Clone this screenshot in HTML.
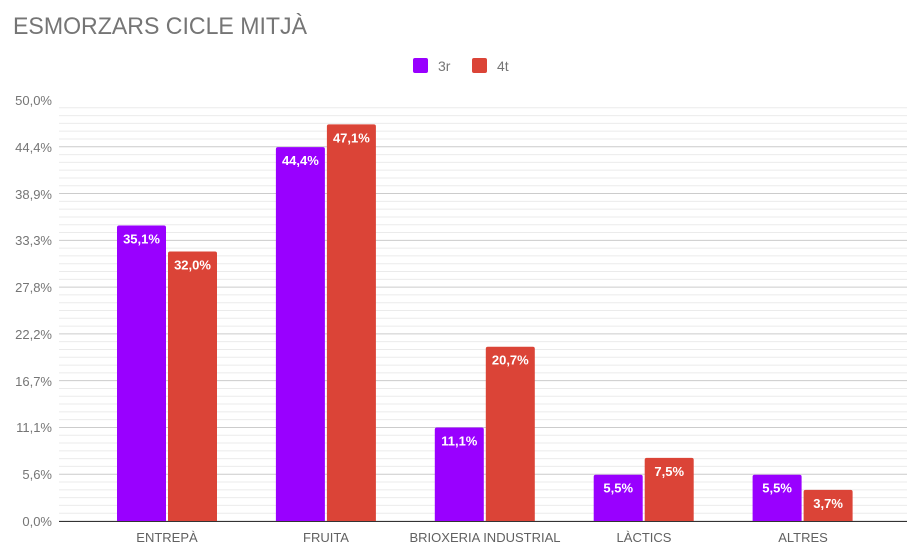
<!DOCTYPE html>
<html><head><meta charset="utf-8"><style>
body{margin:0;background:#fff}
svg{display:block;font-family:"Liberation Sans",Arial,sans-serif}
</style></head><body>
<svg id="s" width="920" height="554" viewBox="0 0 920 554">
<g id="grid"></g>
<text x="13" y="34" font-size="24" fill="#757575" textLength="294" lengthAdjust="spacingAndGlyphs">ESMORZARS CICLE MITJÀ</text>
<rect x="413" y="58" width="15" height="15" rx="2" fill="#9900ff"/>
<text x="438" y="71" font-size="14" fill="#757575">3r</text>
<rect x="472" y="58" width="15" height="15" rx="2" fill="#db4437"/>
<text x="497" y="71" font-size="14" fill="#757575">4t</text>
<g font-size="13" fill="#757575" text-anchor="end">
<text x="52" y="105">50,0%</text>
<text x="52" y="152">44,4%</text>
<text x="52" y="199">38,9%</text>
<text x="52" y="245">33,3%</text>
<text x="52" y="292">27,8%</text>
<text x="52" y="339">22,2%</text>
<text x="52" y="386">16,7%</text>
<text x="52" y="432">11,1%</text>
<text x="52" y="479">5,6%</text>
<text x="52" y="526">0,0%</text>
</g>
<g id="bars"></g>
<line x1="59" y1="521.5" x2="907" y2="521.5" stroke="#333" stroke-width="1"/>
<g font-size="13" fill="#616161" text-anchor="middle">
<text x="167" y="542">ENTREPÀ</text>
<text x="326" y="542">FRUITA</text>
<text x="485" y="542">BRIOXERIA INDUSTRIAL</text>
<text x="644" y="542">LÀCTICS</text>
<text x="803" y="542">ALTRES</text>
</g>
<g font-size="13" font-weight="bold" fill="#fff" text-anchor="middle">
<text x="141.5" y="243.5">35,1%</text>
<text x="192.5" y="269.6">32,0%</text>
<text x="300.4" y="165.2">44,4%</text>
<text x="351.4" y="142.4">47,1%</text>
<text x="459.3" y="445.5">11,1%</text>
<text x="510.3" y="364.7">20,7%</text>
<text x="618.2" y="492.7">5,5%</text>
<text x="669.2" y="475.9">7,5%</text>
<text x="777.1" y="492.7">5,5%</text>
<text x="828.1" y="507.8">3,7%</text>
</g>
</svg>
<script>
var ns="http://www.w3.org/2000/svg",g=document.getElementById("grid");
for(var i=0;i<54;i++){var y=521-i*421/54;var l=document.createElementNS(ns,"line");
l.setAttribute("x1",59);l.setAttribute("x2",907);l.setAttribute("y1",y);l.setAttribute("y2",y);
l.setAttribute("stroke",i%6==0?"#cccccc":"#ebebeb");l.setAttribute("stroke-width",1);g.appendChild(l);}
var b=document.getElementById("bars");
var v3=[35.1,44.4,11.1,5.5,5.5],v4=[32.0,47.1,20.7,7.5,3.7];
for(var k=0;k<5;k++){var c=167+k*158.9;
[[c-50,v3[k],"#9900ff"],[c+1,v4[k],"#db4437"]].forEach(function(a){
var h=a[1]*8.42;var p=document.createElementNS(ns,"path");var x=a[0],y=521-h,w=49,r=2;
p.setAttribute("d","M"+x+",521V"+(y+r)+"Q"+x+","+y+" "+(x+r)+","+y+"H"+(x+w-r)+"Q"+(x+w)+","+y+" "+(x+w)+","+(y+r)+"V521Z");
p.setAttribute("fill",a[2]);b.appendChild(p);});}
</script>
</body></html>
